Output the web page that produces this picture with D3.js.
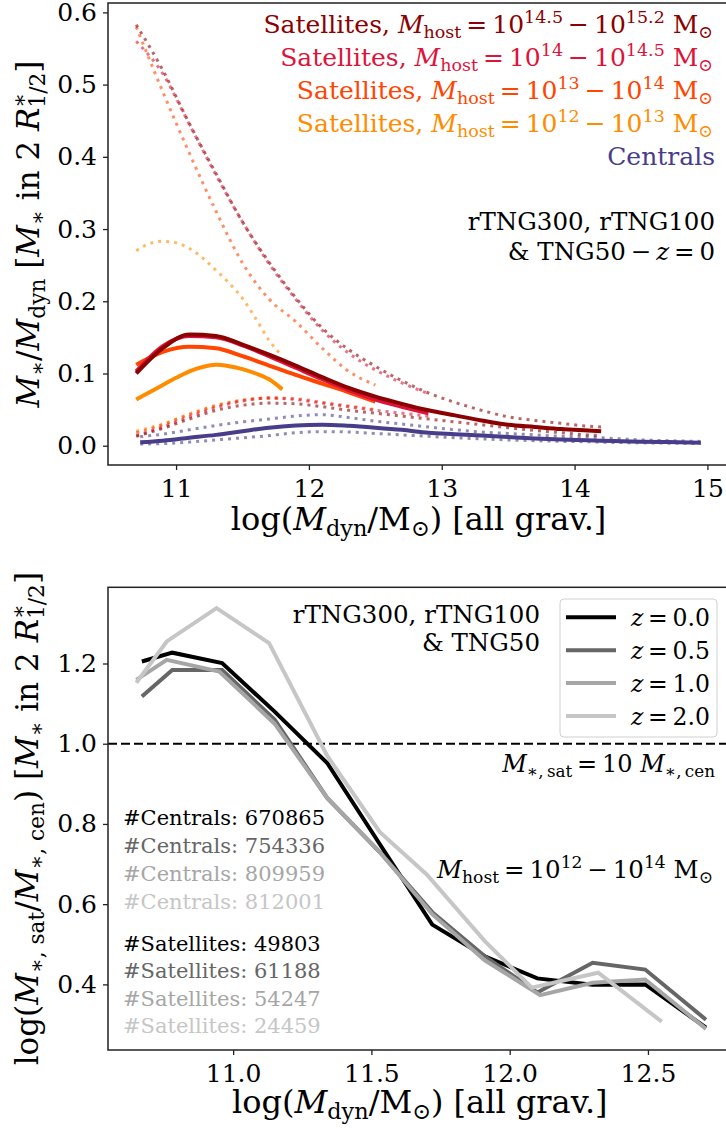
<!DOCTYPE html>
<html>
<head>
<meta charset="utf-8">
<script src="https://cdn.jsdelivr.net/npm/d3@7"></script>
<style>
  html, body { margin: 0; padding: 0; background: #fff; }
  svg text { white-space: pre; }
</style>
</head>
<body>
<svg id="fig" width="726" height="1128"></svg>
<script>
// ---------- Upper panel: stellar-to-dynamical mass ratio vs dynamical mass ----------
// Satellites in hosts of 10^14.5 - 10^15.2 Msun
const hiX      = [10.7, 10.9, 11.1, 11.3, 11.5, 11.7, 11.9, 12.1, 12.3, 12.5, 12.7, 12.9, 13.1, 13.3, 13.5, 13.7, 13.9, 14.1, 14.2];
const hiMed    = [0.100, 0.135, 0.154, 0.152, 0.140, 0.126, 0.111, 0.095, 0.080, 0.068, 0.058, 0.049, 0.042, 0.035, 0.029, 0.026, 0.023, 0.021, 0.020];
const hiUp     = [0.583, 0.520, 0.446, 0.377, 0.310, 0.254, 0.205, 0.163, 0.133, 0.110, 0.090, 0.073, 0.060, 0.049, 0.040, 0.035, 0.031, 0.027, 0.026];
const hiLo     = [0.013, 0.024, 0.037, 0.049, 0.056, 0.059, 0.058, 0.054, 0.049, 0.045, 0.041, 0.037, 0.033, 0.029, 0.025, 0.021, 0.018, 0.015, 0.014];
// Satellites in hosts of 10^14 - 10^14.5 Msun
const c14X     = [10.7, 10.9, 11.1, 11.3, 11.5, 11.7, 11.9, 12.1, 12.3, 12.5, 12.7, 12.9];
const c14Med   = [0.103, 0.138, 0.152, 0.150, 0.139, 0.124, 0.108, 0.092, 0.077, 0.064, 0.054, 0.045];
const c14Up    = [0.560, 0.515, 0.445, 0.375, 0.310, 0.252, 0.203, 0.160, 0.128, 0.105, 0.087, 0.072];
const c14Lo    = [0.014, 0.026, 0.040, 0.053, 0.062, 0.066, 0.064, 0.059, 0.054, 0.049, 0.045, 0.041];
// Satellites in hosts of 10^13 - 10^14 Msun
const g13X     = [10.7, 10.9, 11.1, 11.3, 11.5, 11.7, 11.9, 12.1, 12.3, 12.5];
const g13Med   = [0.112, 0.130, 0.137, 0.135, 0.124, 0.111, 0.098, 0.086, 0.074, 0.061];
const g13Up    = [0.580, 0.490, 0.405, 0.325, 0.253, 0.203, 0.172, 0.135, 0.103, 0.084];
const g13Lo    = [0.018, 0.029, 0.043, 0.055, 0.063, 0.066, 0.065, 0.060, 0.055, 0.050];
// Satellites in hosts of 10^12 - 10^13 Msun
const g12X     = [10.7, 10.8, 10.9, 11.0, 11.1, 11.2, 11.3, 11.4, 11.5, 11.6, 11.7, 11.8];
const g12Med   = [0.064, 0.074, 0.084, 0.094, 0.103, 0.109, 0.112, 0.110, 0.106, 0.100, 0.092, 0.078];
const g12Up    = [0.270, 0.280, 0.283, 0.281, 0.273, 0.260, 0.243, 0.225, 0.204, 0.176, 0.146, 0.124];
const g12Lo    = [0.020, 0.025, 0.030, 0.037, 0.044, 0.050, 0.056, 0.060, 0.063, 0.065, 0.066, 0.066];
// Centrals
const cenX     = [10.73, 10.9, 11.1, 11.3, 11.5, 11.7, 11.9, 12.1, 12.3, 12.5, 12.7, 12.9, 13.1, 13.3, 13.5, 13.7, 13.9, 14.1, 14.3, 14.5, 14.7, 14.95];
const cenMed   = [0.0047, 0.007, 0.011, 0.015, 0.020, 0.025, 0.028, 0.029, 0.0275, 0.025, 0.022, 0.018, 0.016, 0.014, 0.012, 0.010, 0.0085, 0.0075, 0.0065, 0.0055, 0.005, 0.004];
const cenUp    = [0.0125, 0.016, 0.022, 0.028, 0.033, 0.037, 0.041, 0.043, 0.039, 0.034, 0.030, 0.026, 0.022, 0.019, 0.017, 0.015, 0.013, 0.012, 0.010, 0.008, 0.007, 0.006];
const cenLo    = [0.0024, 0.003, 0.005, 0.008, 0.011, 0.014, 0.018, 0.0195, 0.019, 0.017, 0.015, 0.013, 0.011, 0.0095, 0.008, 0.007, 0.006, 0.0055, 0.0045, 0.004, 0.0035, 0.003];

const topXTicks = [11, 12, 13, 14, 15];
const topYTicks = [0.0, 0.1, 0.2, 0.3, 0.4, 0.5, 0.6];

// ---------- Lower panel: satellite / central stellar mass ratio per redshift ----------
const redshifts = ["0.0", "0.5", "1.0", "2.0"];
const z00X = [10.67, 10.78, 10.96, 11.15, 11.34, 11.53, 11.72, 11.91, 12.10, 12.30, 12.49, 12.71];
const z00Y = [1.205, 1.227, 1.201, 1.080, 0.952, 0.750, 0.549, 0.470, 0.415, 0.399, 0.400, 0.292];
const z05X = [10.67, 10.78, 10.96, 11.15, 11.34, 11.53, 11.72, 11.91, 12.10, 12.30, 12.49, 12.71];
const z05Y = [1.118, 1.184, 1.184, 1.060, 0.865, 0.730, 0.580, 0.470, 0.380, 0.454, 0.437, 0.312];
const z10X = [10.65, 10.76, 10.95, 11.15, 11.34, 11.53, 11.72, 11.91, 12.11, 12.30, 12.49, 12.71];
const z10Y = [1.159, 1.209, 1.180, 1.050, 0.865, 0.730, 0.575, 0.460, 0.373, 0.404, 0.412, 0.289];
const z20X = [10.65, 10.76, 10.94, 11.13, 11.34, 11.53, 11.70, 11.91, 12.08, 12.32, 12.55];
const z20Y = [1.152, 1.255, 1.338, 1.251, 0.970, 0.780, 0.674, 0.508, 0.392, 0.429, 0.307];
const nCentrals   = ["670865", "754336", "809959", "812001"];
const nSatellites = ["49803", "61188", "54247", "24459"];

const botXTicks = [11.0, 11.5, 12.0, 12.5];
const botYTicks = [0.4, 0.6, 0.8, 1.0, 1.2];

// ---------- helpers ----------
const FONT = "DejaVu Serif";
const TS = "\u2009";   // thin space around binary operators
const svg = d3.select("#fig");
svg.append("rect").attr("width", 726).attr("height", 1128).attr("fill", "#fff");

const zip = (xs, ys) => xs.map((x, i) => [x, ys[i]]);

// Text with italic letters, sub- and superscripts built from tspans.
function mtext(parent, parts, o) {
  const size = o.size;
  const t = parent.append("text")
    .attr("font-family", FONT)
    .attr("font-size", size)
    .attr("fill", o.color || "#000")
    .attr("text-anchor", o.anchor || "start");
  if (o.rotate) t.attr("transform", `translate(${o.x},${o.y}) rotate(${o.rotate})`);
  else t.attr("x", o.x).attr("y", o.y);
  let cur = 0, prev = null;
  parts.forEach(p => {
    if (typeof p === "string") p = { t: p };
    const scale = (p.sub || p.sup) ? 0.7 : 1;
    const target = p.sub ? 0.2 * size : (p.sup ? -0.4 * size : 0);
    const ts = t.append("tspan").text(p.t)
      .attr("dy", target - cur)
      .attr("font-size", size * scale);
    if (p.it) ts.attr("font-style", "italic");
    if (p.stack && prev) ts.attr("dx", -prev.getComputedTextLength());
    cur = target;
    prev = ts.node();
  });
  return t;
}

function styleAxis(g, size) {
  g.select(".domain").remove();
  g.selectAll(".tick line").attr("stroke", "#222").attr("stroke-width", 1.3);
  g.selectAll(".tick text").attr("font-family", FONT).attr("font-size", size).attr("fill", "#000");
}

// ================= Upper panel =================
const boxT = { l: 108, r: 729, t: 3, b: 465 };
const xT = d3.scaleLinear().domain([10.4875, 15.1625]).range([boxT.l, boxT.r]);
const yT = d3.scaleLinear().domain([-0.0267, 0.613]).range([boxT.b, boxT.t]);
const lineT = d3.line().x(d => xT(d[0])).y(d => yT(d[1])).curve(d3.curveMonotoneX);

const gTop = svg.append("g");
const groups = [
  { name: "cen", color: "#483d8b", x: cenX, med: cenMed, up: cenUp, lo: cenLo },
  { name: "g12", color: "#ff8c00", x: g12X, med: g12Med, up: g12Up, lo: g12Lo },
  { name: "g13", color: "#ff4500", x: g13X, med: g13Med, up: g13Up, lo: g13Lo },
  { name: "c14", color: "#dc143c", x: c14X, med: c14Med, up: c14Up, lo: c14Lo },
  { name: "hi",  color: "#8b0000", x: hiX,  med: hiMed,  up: hiUp,  lo: hiLo }
];
groups.forEach(gr => {
  [gr.up, gr.lo].forEach(vals => {
    gTop.append("path").attr("d", lineT(zip(gr.x, vals)))
      .attr("fill", "none").attr("stroke", gr.color).attr("stroke-opacity", 0.6)
      .attr("stroke-width", 3).attr("stroke-dasharray", "3,5");
  });
});
groups.forEach(gr => {
  gTop.append("path").attr("d", lineT(zip(gr.x, gr.med)))
    .attr("fill", "none").attr("stroke", gr.color).attr("stroke-width", 4)
    .attr("stroke-linecap", "butt");
});

// axes
const axTX = svg.append("g").attr("transform", `translate(0,${boxT.b})`)
  .call(d3.axisBottom(xT).tickValues(topXTicks).tickFormat(d3.format("d")).tickSize(5).tickPadding(9));
styleAxis(axTX, 25);
const axTY = svg.append("g").attr("transform", `translate(${boxT.l},0)`)
  .call(d3.axisLeft(yT).tickValues(topYTicks).tickFormat(d3.format(".1f")).tickSize(5).tickPadding(6));
styleAxis(axTY, 25);
svg.append("rect").attr("x", boxT.l).attr("y", boxT.t).attr("width", boxT.r - boxT.l).attr("height", boxT.b - boxT.t)
  .attr("fill", "none").attr("stroke", "#222").attr("stroke-width", 1.5);

// legend text
const legRows = [
  { color: "#8b0000", lo: "14.5", hi: "15.2", y: 33 },
  { color: "#dc143c", lo: "14",   hi: "14.5", y: 66 },
  { color: "#ff4500", lo: "13",   hi: "14",   y: 99 },
  { color: "#ff8c00", lo: "12",   hi: "13",   y: 132 }
];
legRows.forEach(r => {
  mtext(svg, ["Satellites, ", { t: "M", it: true }, { t: "host", sub: true }, TS + "=" + TS + "10", { t: r.lo, sup: true },
    TS + "−" + TS + "10", { t: r.hi, sup: true }, " M", { t: "⊙", sub: true }],
    { x: 713, y: r.y, size: 25, anchor: "end", color: r.color });
});
mtext(svg, ["Centrals"], { x: 715, y: 165, size: 25, anchor: "end", color: "#483d8b" });
mtext(svg, ["rTNG300, rTNG100"], { x: 715, y: 230, size: 24.5, anchor: "end" });
mtext(svg, ["& TNG50" + TS + "−" + TS, { t: "z", it: true }, TS + "=" + TS + "0"], { x: 715, y: 260, size: 24.5, anchor: "end" });

// axis labels
mtext(svg, ["log(", { t: "M", it: true }, { t: "dyn", sub: true }, "/M", { t: "⊙", sub: true }, ") [all grav.]"],
  { x: (boxT.l + boxT.r) / 2, y: 530, size: 32, anchor: "middle" });
mtext(svg, [{ t: "M", it: true }, { t: "∗", sub: true }, "/", { t: "M", it: true }, { t: "dyn", sub: true },
  " [", { t: "M", it: true }, { t: "∗", sub: true }, " in 2 ", { t: "R", it: true }, { t: "∗", sup: true },
  { t: "1/2", sub: true, stack: true }, "]"],
  { x: 39, y: (boxT.t + boxT.b) / 2, size: 31, anchor: "middle", rotate: -90 });

// ================= Lower panel =================
const boxB = { l: 108, r: 731.6, t: 587.3, b: 1050 };
const xB = d3.scaleLinear().domain([10.5475, 12.8025]).range([boxB.l, boxB.r]);
const yB = d3.scaleLinear().domain([0.2364, 1.390]).range([boxB.b, boxB.t]);
const lineB = d3.line().x(d => xB(d[0])).y(d => yB(d[1]));

const zColors = ["#000000", "#666666", "#a6a6a6", "#c6c6c6"];
const zSeries = [zip(z00X, z00Y), zip(z05X, z05Y), zip(z10X, z10Y), zip(z20X, z20Y)];

const gBot = svg.append("g");
gBot.append("line").attr("x1", boxB.l).attr("x2", boxB.r).attr("y1", yB(1.0)).attr("y2", yB(1.0))
  .attr("stroke", "#000").attr("stroke-width", 2).attr("stroke-dasharray", "9,4");
zSeries.forEach((s, i) => {
  gBot.append("path").attr("d", lineB(s)).attr("fill", "none")
    .attr("stroke", zColors[i]).attr("stroke-width", 4).attr("stroke-linejoin", "miter");
});

const axBX = svg.append("g").attr("transform", `translate(0,${boxB.b})`)
  .call(d3.axisBottom(xB).tickValues(botXTicks).tickFormat(d3.format(".1f")).tickSize(5).tickPadding(9));
styleAxis(axBX, 25);
const axBY = svg.append("g").attr("transform", `translate(${boxB.l},0)`)
  .call(d3.axisLeft(yB).tickValues(botYTicks).tickFormat(d3.format(".1f")).tickSize(5).tickPadding(6));
styleAxis(axBY, 25);
svg.append("rect").attr("x", boxB.l).attr("y", boxB.t).attr("width", boxB.r - boxB.l).attr("height", boxB.b - boxB.t)
  .attr("fill", "none").attr("stroke", "#222").attr("stroke-width", 1.5);

// legend
const leg = svg.append("g");
leg.append("rect").attr("x", 560).attr("y", 599).attr("width", 157).attr("height", 138).attr("rx", 4)
  .attr("fill", "#fff").attr("fill-opacity", 0.8).attr("stroke", "#d0d0d0").attr("stroke-width", 1);
redshifts.forEach((z, i) => {
  const yy = 617.3 + i * 32.9;
  leg.append("line").attr("x1", 566).attr("x2", 616).attr("y1", yy).attr("y2", yy)
    .attr("stroke", zColors[i]).attr("stroke-width", 4);
  mtext(leg, [{ t: "z", it: true }, TS + "=" + TS + z], { x: 631, y: yy + 8.5, size: 23.5 });
});

mtext(svg, ["rTNG300, rTNG100"], { x: 540, y: 623, size: 24.5, anchor: "end" });
mtext(svg, ["& TNG50"], { x: 540, y: 651, size: 24.5, anchor: "end" });
mtext(svg, [{ t: "M", it: true }, { t: "∗," + TS + "sat", sub: true }, TS + "=" + TS + "10 ", { t: "M", it: true },
  { t: "∗," + TS + "cen", sub: true }], { x: 715, y: 772, size: 24, anchor: "end" });
mtext(svg, [{ t: "M", it: true }, { t: "host", sub: true }, TS + "=" + TS + "10", { t: "12", sup: true },
  TS + "−" + TS + "10", { t: "14", sup: true }, " M", { t: "⊙", sub: true }], { x: 713, y: 878, size: 24.5, anchor: "end" });

const cenBase = [825, 853, 881, 909];
const satBase = [951, 978, 1006, 1033];
nCentrals.forEach((n, i) => mtext(svg, ["#Centrals: " + n], { x: 123, y: cenBase[i], size: 21, color: zColors[i] }));
nSatellites.forEach((n, i) => mtext(svg, ["#Satellites: " + n], { x: 123, y: satBase[i], size: 21, color: zColors[i] }));

// axis labels
mtext(svg, ["log(", { t: "M", it: true }, { t: "dyn", sub: true }, "/M", { t: "⊙", sub: true }, ") [all grav.]"],
  { x: (boxB.l + boxB.r) / 2, y: 1113, size: 32, anchor: "middle" });
mtext(svg, ["log(", { t: "M", it: true }, { t: "∗, sat", sub: true }, "/", { t: "M", it: true }, { t: "∗, cen", sub: true },
  ") [", { t: "M", it: true }, { t: "∗", sub: true }, " in 2 ", { t: "R", it: true }, { t: "∗", sup: true },
  { t: "1/2", sub: true, stack: true }, "]"],
  { x: 38, y: (boxB.t + boxB.b) / 2, size: 31, anchor: "middle", rotate: -90 });
</script>
</body>
</html>
